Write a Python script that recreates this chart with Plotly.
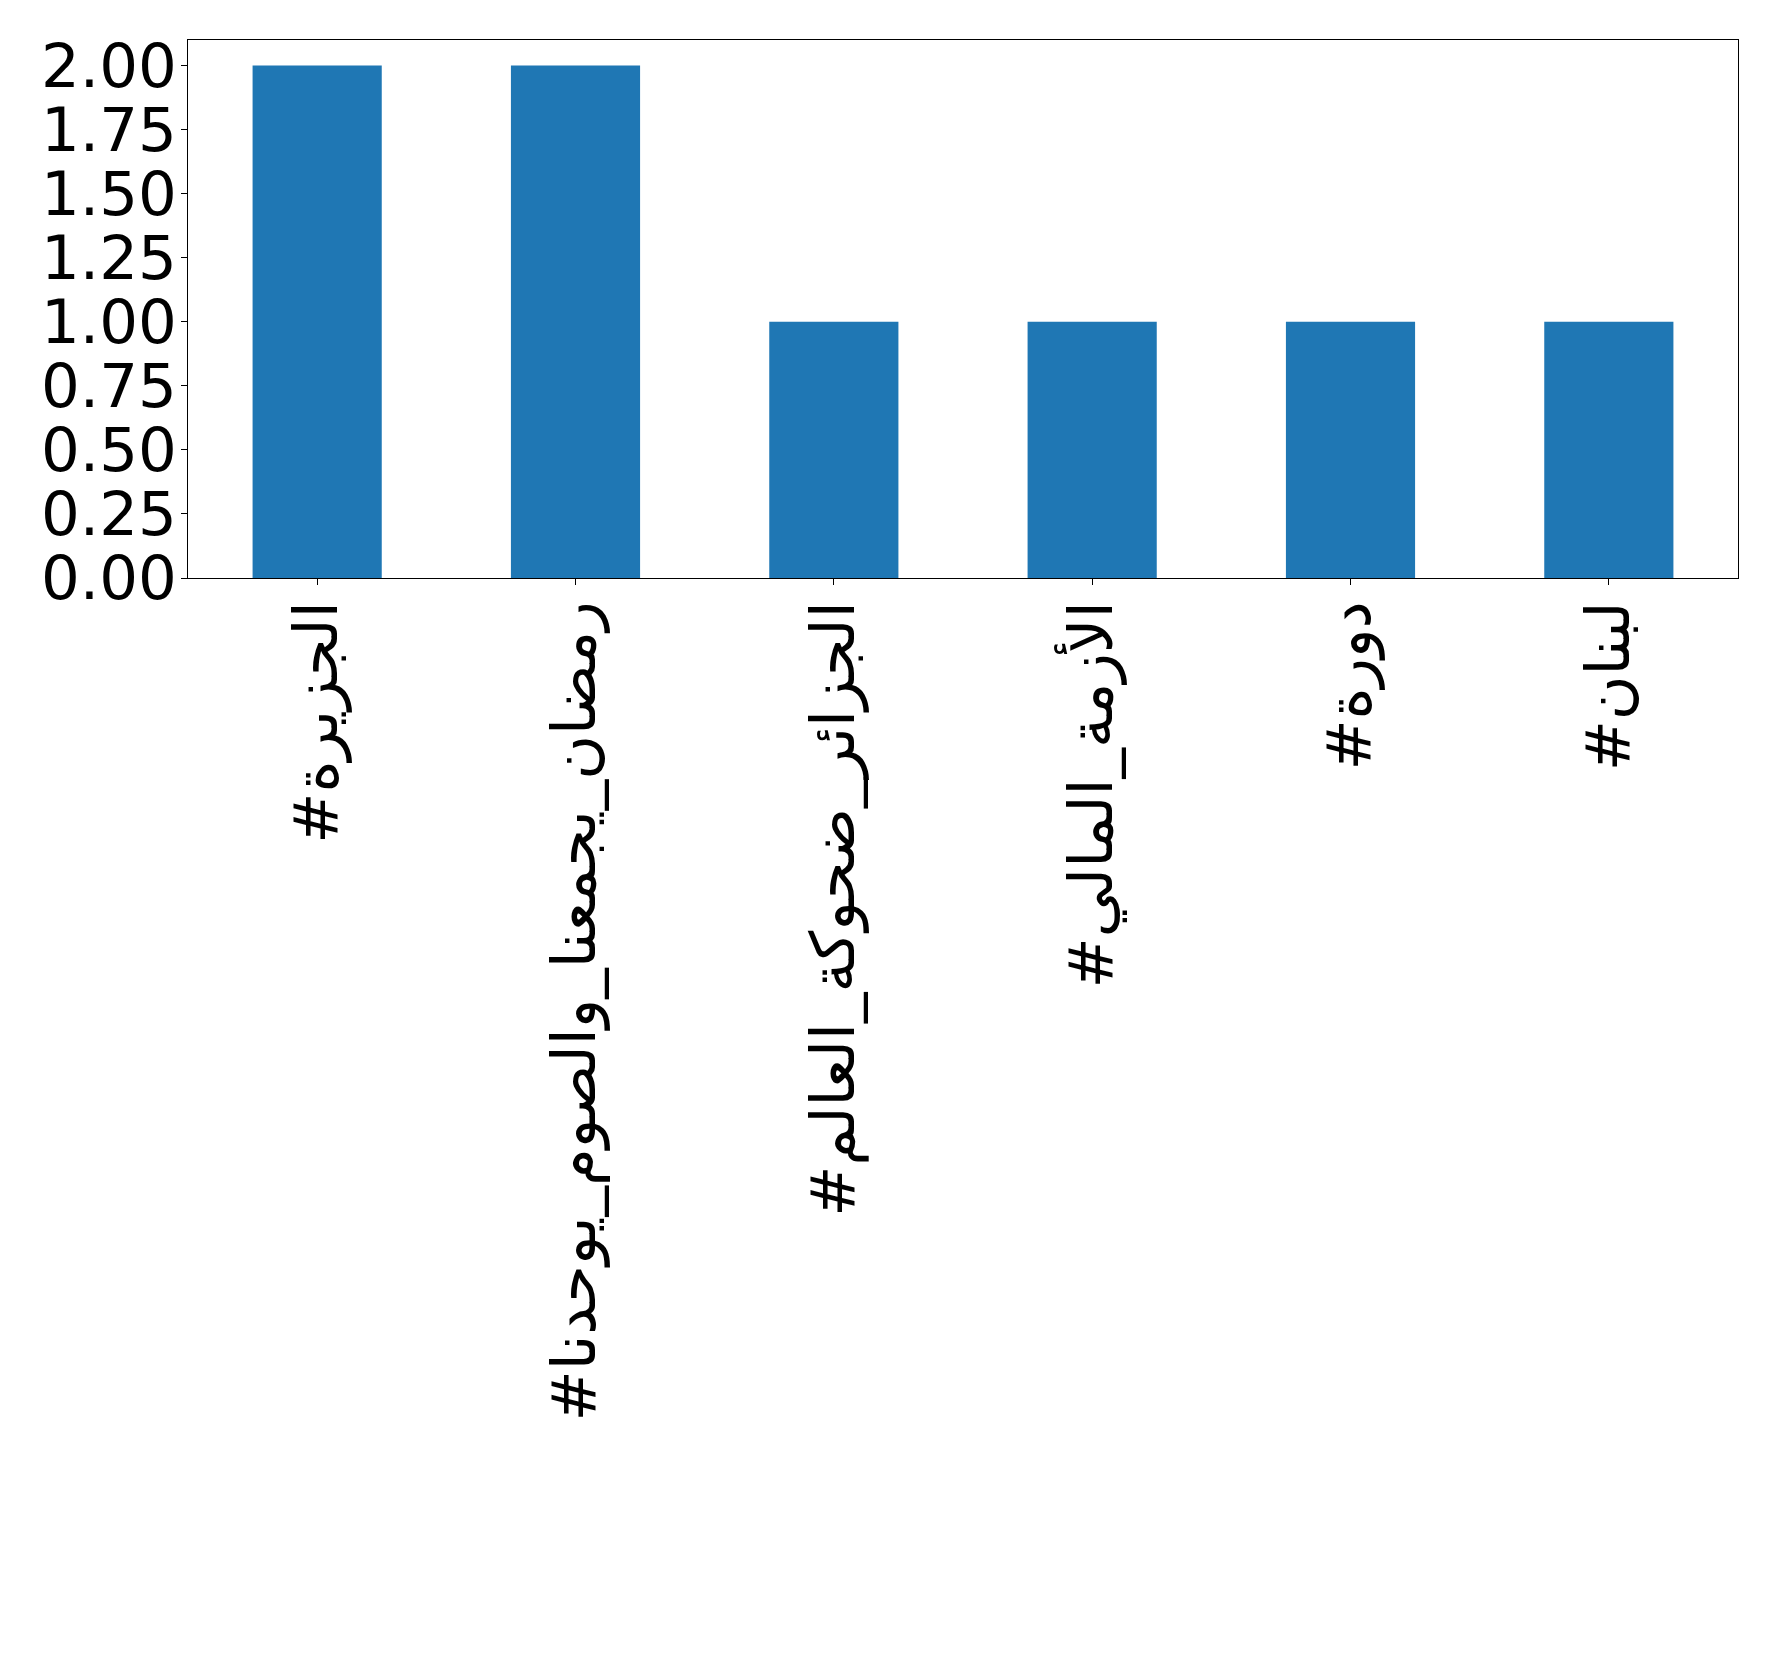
import plotly.graph_objects as go

categories = [
    "#الجزيرة",
    "#رمضان_يجمعنا_والصوم_يوحدنا",
    "#الجزائر_ضحوكة_العالم",
    "#الأزمة_المالي",
    "#دورة",
    "#لبنان",
]
counts = [2, 2, 1, 1, 1, 1]
y_ticks = [0, 0.25, 0.5, 0.75, 1.0, 1.25, 1.5, 1.75, 2.0]
y_tick_labels = ["0.00", "0.25", "0.50", "0.75", "1.00", "1.25", "1.50", "1.75", "2.00"]

fig = go.Figure(
    go.Bar(
        x=list(range(len(categories))),
        y=counts,
        width=0.5,
        marker=dict(color="#1f77b4", line=dict(width=0)),
    )
)

font = dict(family="DejaVu Sans", size=61, color="black")

fig.update_layout(
    width=1770,
    height=1651,
    margin=dict(l=180, r=40, t=32, b=1081, pad=0),
    plot_bgcolor="white",
    paper_bgcolor="white",
    showlegend=False,
    font=font,
)
fig.update_xaxes(
    range=[-0.5, 5.5],
    tickmode="array",
    tickvals=list(range(len(categories))),
    ticktext=categories,
    tickangle=-90,
    ticks="outside",
    ticklen=6,
    tickwidth=1,
    tickcolor="black",
    ticklabelstandoff=-8,
    showline=True,
    linecolor="black",
    linewidth=1,
    mirror=True,
    showgrid=False,
    zeroline=False,
    tickfont=font,
)
fig.update_yaxes(
    range=[0, 2.1],
    tickmode="array",
    tickvals=y_ticks,
    ticktext=y_tick_labels,
    ticks="outside",
    ticklen=6,
    tickwidth=1,
    tickcolor="black",
    ticklabelstandoff=-8,
    showline=True,
    linecolor="black",
    linewidth=1,
    mirror=True,
    showgrid=False,
    zeroline=False,
    tickfont=font,
)

fig.write_html("out.html")
